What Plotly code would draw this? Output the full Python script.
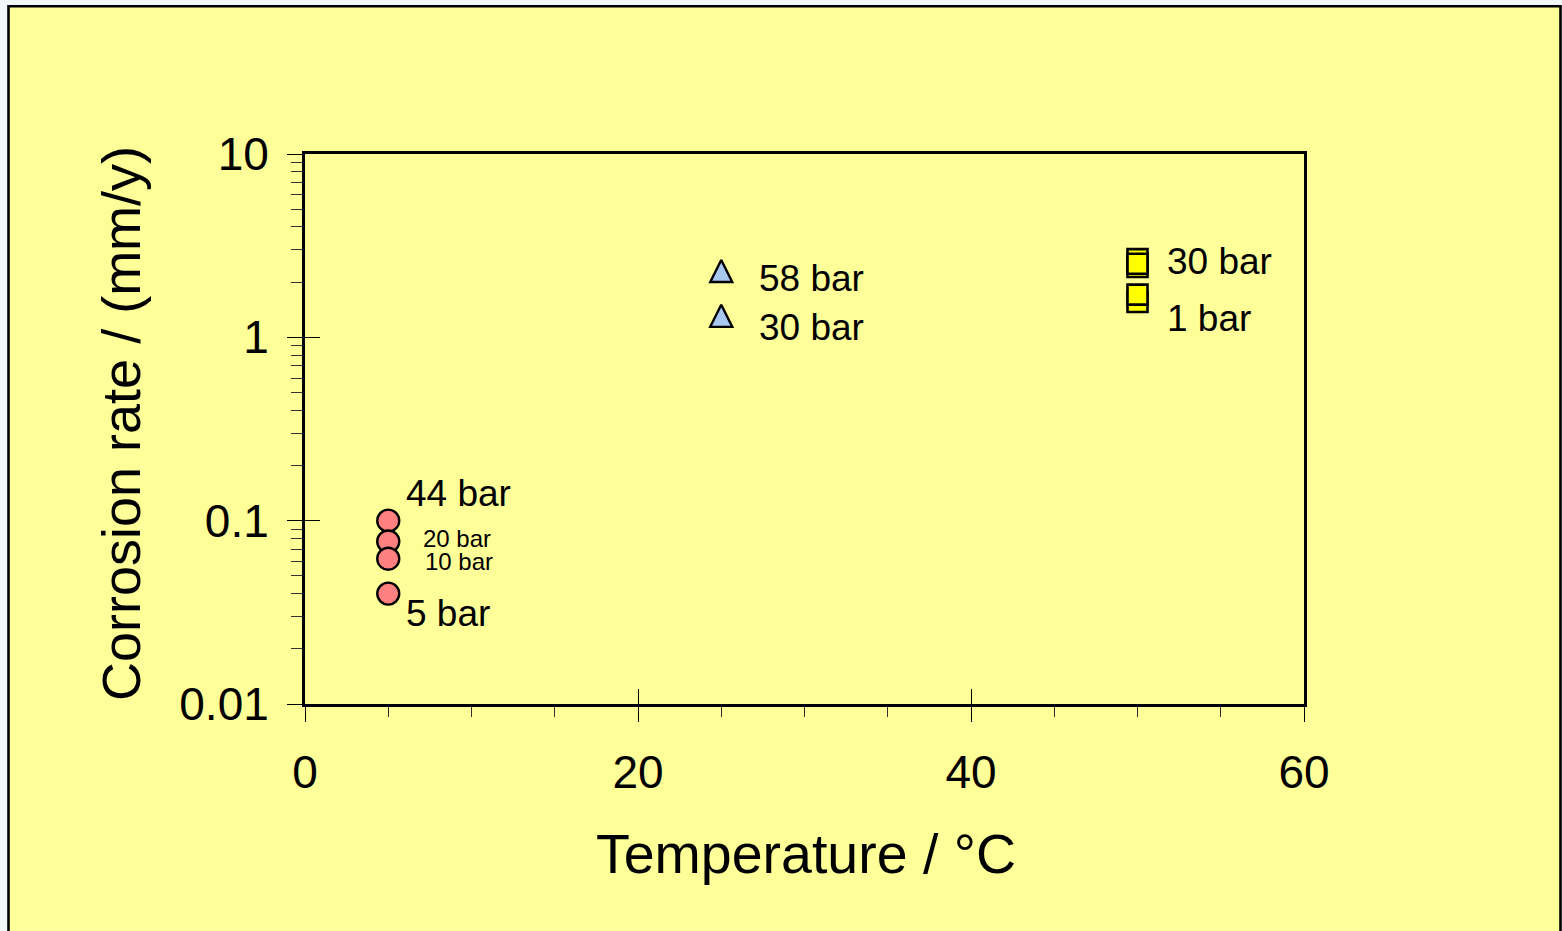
import math
import plotly.graph_objects as go

# ---- data ----
circle_T = [5, 5, 5, 5]
circle_rate = [0.1, 0.077, 0.062, 0.04]
circle_labels = ["44 bar", "20 bar", "10 bar", "5 bar"]

tri_T = [25, 25]
tri_rate = [2.3, 1.31]
tri_labels = ["58 bar", "30 bar"]

square_T = [50, 50, 50, 50, 50]
square_rate = [2.42, 2.67, 2.52, 1.56, 1.71]
square_labels = ["30 bar", "1 bar"]

x_tick_vals = [0, 20, 40, 60]
x_tick_text = ["0", "20", "40", "60"]
y_tick_vals = [0.01, 0.1, 1, 10]
y_tick_text = ["0.01", "0.1", "1", "10"]

x_title = "Temperature / °C"
y_title = "Corrosion rate / (mm/y)"

FONT = "Liberation Sans, Arial, sans-serif"
W, H = 1562, 931
L, R, T, B = 305, 258, 154, 227

fig = go.Figure()
fig.add_trace(go.Scatter(
    x=circle_T, y=circle_rate, mode="markers",
    marker=dict(symbol="circle", size=22, color="#ff8080",
                line=dict(color="black", width=2.4)),
    showlegend=False, cliponaxis=False))
fig.add_trace(go.Scatter(
    x=tri_T, y=tri_rate, mode="markers",
    marker=dict(symbol="arrow-down", angle=180, standoff=11, size=22,
                color="#a8c8f0", line=dict(color="black", width=2.4)),
    showlegend=False, cliponaxis=False))
fig.add_trace(go.Scatter(
    x=square_T, y=square_rate, mode="markers",
    marker=dict(symbol="square", size=20, color="#ffff00",
                line=dict(color="black", width=2.6)),
    showlegend=False, cliponaxis=False))
# empty trace for overlay axes (cross ticks)
fig.add_trace(go.Scatter(x=[], y=[], xaxis="x2", yaxis="y2", showlegend=False))


def lab(x, y, text, dx, dy, size):
    fig.add_annotation(x=x, y=y, xref="x", yref="y", text=text, showarrow=False,
                       xanchor="left", yanchor="middle", xshift=dx, yshift=dy,
                       borderpad=0,
                       font=dict(family=FONT, size=size, color="black"))


lab(circle_T[0], math.log10(circle_rate[0]), circle_labels[0], 17, 27, 37)
lab(circle_T[1], math.log10(circle_rate[1]), circle_labels[1], 34, 3, 24)
lab(circle_T[2], math.log10(circle_rate[2]), circle_labels[2], 36, -3, 24)
lab(circle_T[3], math.log10(circle_rate[3]), circle_labels[3], 17, -20, 37)
lab(tri_T[0], math.log10(tri_rate[0]), tri_labels[0], 37, -7, 37)
lab(tri_T[1], math.log10(tri_rate[1]), tri_labels[1], 37, -12, 37)
lab(square_T[2], math.log10(square_rate[2]), square_labels[0], 28, 2, 37)
lab(square_T[4], math.log10(square_rate[4]), square_labels[1], 28, -24, 37)

# axis titles
fig.add_annotation(x=(806 - 305) / 999, y=(704 - 854) / 550,
                   xref="paper", yref="paper", text=x_title, showarrow=False,
                   xanchor="center", yanchor="middle",
                   font=dict(family=FONT, size=55.5, color="black"))
fig.add_annotation(x=(121 - 305) / 999, y=(704 - 424) / 550,
                   xref="paper", yref="paper", text=y_title, showarrow=False,
                   textangle=-90, xanchor="center", yanchor="middle",
                   font=dict(family=FONT, size=54, color="black"))

# outer frame
fig.add_shape(type="rect", xref="paper", yref="paper", layer="below",
              x0=(8.5 - 305) / 999, x1=(1560.5 - 305) / 999,
              y0=(704 - 960) / 550, y1=(704 - 6.2) / 550,
              line=dict(color="black", width=2.6), fillcolor="#ffff99")

axis_common = dict(showgrid=False, zeroline=False, tickcolor="black", tickwidth=1.3)

fig.update_layout(
    width=W, height=H,
    margin=dict(l=L, r=R, t=T, b=B, pad=0),
    paper_bgcolor="#f2f8f8", plot_bgcolor="#ffff99",
    font=dict(family=FONT, color="black"),
    xaxis=dict(range=[0, 60], tickmode="array", tickvals=x_tick_vals, ticktext=x_tick_text,
               ticks="outside", ticklen=15, ticklabelstandoff=11,
               tickfont=dict(family=FONT, size=46, color="black"),
               showline=True, linecolor="black", linewidth=3, mirror=True,
               minor=dict(dtick=5, ticks="outside", ticklen=10, tickcolor="#333333", tickwidth=1.2),
               **axis_common),
    yaxis=dict(type="log", range=[-2, 1], tickmode="array", tickvals=y_tick_vals, ticktext=y_tick_text,
               ticks="outside", ticklen=15, ticklabelstandoff=9,
               tickfont=dict(family=FONT, size=46, color="black"),
               showline=True, linecolor="black", linewidth=3, mirror=True,
               minor=dict(dtick="D1", ticks="outside", ticklen=11, tickcolor="#333333", tickwidth=1.2),
               **axis_common),
    xaxis2=dict(range=[0, 60], overlaying="x", anchor="y2", side="bottom",
                tickmode="array", tickvals=x_tick_vals, ticks="inside", ticklen=15,
                showticklabels=False, showline=False, **axis_common),
    yaxis2=dict(type="log", range=[-2, 1], overlaying="y", anchor="x2", side="left",
                tickmode="array", tickvals=y_tick_vals, ticks="inside", ticklen=15,
                showticklabels=False, showline=False, **axis_common),
)

fig.write_html("out.html")
